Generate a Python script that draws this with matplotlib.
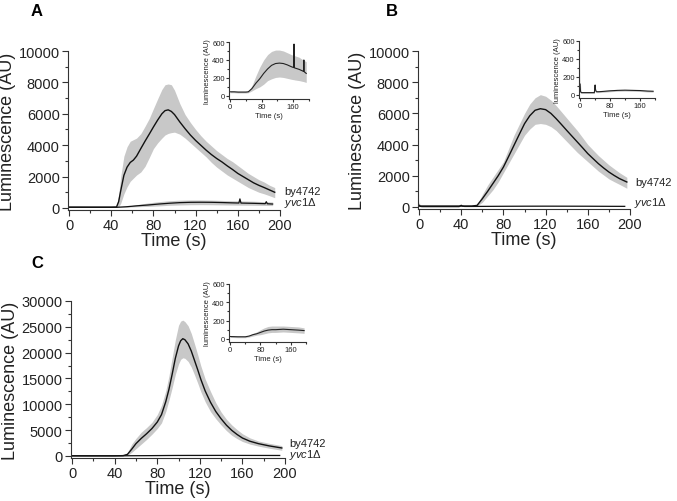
import numpy as np
import matplotlib
matplotlib.use("Agg")
import matplotlib.pyplot as plt
from matplotlib.ticker import MultipleLocator

plt.rcParams['font.family'] = ['Liberation Sans', 'DejaVu Sans']
plt.rcParams['mathtext.fontset'] = 'custom'
plt.rcParams['mathtext.rm'] = 'Liberation Sans'
plt.rcParams['mathtext.it'] = 'Liberation Sans:italic'

# ---- panel A ----
tA = [0, 40, 45, 47, 49, 52, 55, 58, 61, 64, 68, 72, 76, 80, 84, 88, 91, 94, 97, 100, 105, 110, 115, 120, 125, 130, 135, 140, 145, 150, 155, 160, 165, 170, 175, 180, 185, 190, 195]
wtA = [50, 50, 60, 400, 1100, 2080, 2600, 2900, 3050, 3300, 3780, 4250, 4700, 5160, 5600, 6000, 6200, 6250, 6150, 5950, 5480, 5050, 4650, 4300, 3990, 3680, 3400, 3150, 2930, 2680, 2450, 2200, 2000, 1800, 1600, 1440, 1300, 1150, 1000]
wtA_hi = [60, 60, 80, 800, 2000, 3300, 3900, 4250, 4350, 4450, 4730, 5200, 5700, 6330, 6950, 7550, 7850, 7900, 7850, 7500, 6650, 5950, 5450, 5000, 4600, 4250, 3950, 3650, 3400, 3150, 2950, 2700, 2450, 2200, 2000, 1800, 1650, 1450, 1300]
wtA_lo = [40, 40, 40, 60, 300, 900, 1350, 1700, 1900, 2100, 2290, 2650, 3200, 3780, 4150, 4450, 4650, 4750, 4800, 4830, 4700, 4450, 4150, 3850, 3550, 3250, 2900, 2600, 2350, 2100, 1900, 1700, 1500, 1300, 1150, 1000, 900, 780, 650]

tA_y = [0, 10, 20, 30, 40, 46, 55, 65, 75, 85, 95, 105, 115, 125, 135, 145, 155, 161, 162, 163, 175, 185, 186, 187, 188, 193]
yA = [45, 45, 42, 42, 42, 45, 80, 140, 190, 250, 300, 340, 360, 365, 360, 345, 325, 315, 577, 312, 295, 275, 272, 400, 268, 250]
yA_hi = [55, 55, 52, 52, 52, 55, 110, 220, 320, 400, 460, 495, 510, 510, 500, 480, 460, 450, 450, 448, 430, 400, 398, 396, 394, 380]
yA_lo = [35, 35, 32, 32, 32, 35, 55, 80, 100, 130, 170, 190, 205, 210, 205, 195, 185, 180, 180, 178, 170, 160, 160, 158, 156, 150]

# ---- panel B ----
tB = [0, 50, 55, 60, 65, 70, 75, 80, 85, 90, 95, 100, 105, 110, 115, 120, 125, 130, 135, 140, 145, 150, 155, 160, 165, 170, 175, 180, 185, 190, 197]
wtB = [60, 60, 100, 530, 1000, 1500, 2000, 2560, 3250, 3950, 4650, 5340, 5850, 6200, 6300, 6240, 6000, 5660, 5290, 4910, 4540, 4170, 3800, 3420, 3100, 2780, 2500, 2240, 2020, 1820, 1600]
wtB_hi = [70, 70, 150, 800, 1400, 1900, 2400, 2900, 3750, 4600, 5300, 6000, 6600, 7000, 7200, 7100, 6850, 6500, 6100, 5700, 5300, 4900, 4450, 4000, 3650, 3300, 3000, 2700, 2450, 2200, 1900]
wtB_lo = [50, 50, 60, 300, 700, 1100, 1600, 2200, 2800, 3400, 4000, 4600, 5000, 5300, 5350, 5300, 5150, 4900, 4550, 4200, 3850, 3500, 3200, 2900, 2600, 2300, 2050, 1800, 1620, 1450, 1200]

tB_y = [0, 1, 2, 3, 5, 10, 20, 30, 38, 40, 41, 43, 50, 60, 80, 100, 120, 140, 160, 180, 195]
yB = [120, 40, 30, 25, 25, 25, 25, 25, 25, 110, 60, 35, 35, 38, 45, 50, 52, 50, 48, 42, 40]
yB_hi = [350, 120, 50, 35, 35, 35, 35, 35, 35, 130, 75, 45, 45, 48, 55, 60, 62, 60, 58, 52, 50]
yB_lo = [80, 20, 20, 15, 15, 15, 15, 15, 15, 90, 45, 25, 25, 28, 35, 40, 42, 40, 38, 32, 30]

# ---- panel C ----
tC = [0, 40, 48, 52, 56, 60, 65, 70, 75, 80, 84, 88, 91, 94, 97, 100, 102, 104, 106, 109, 112, 115, 118, 121, 125, 130, 135, 140, 145, 150, 155, 160, 167, 175, 185, 197]
wtC = [20, 20, 60, 300, 1300, 2380, 3400, 4300, 5300, 6550, 8000, 10500, 12900, 15800, 18900, 21300, 22300, 22700, 22500, 21700, 20300, 18500, 16700, 14800, 12600, 10400, 8600, 7190, 5950, 4950, 4150, 3470, 2850, 2380, 1950, 1540]
wtC_hi = [30, 30, 120, 600, 2300, 3400, 4600, 5500, 6500, 8000, 9800, 12600, 15500, 19000, 22500, 25300, 26100, 26300, 26000, 25200, 23700, 21700, 19600, 17400, 14900, 12500, 10300, 8500, 7100, 6000, 5100, 4300, 3500, 2900, 2450, 2000]
wtC_lo = [10, 10, 20, 100, 700, 1400, 2300, 3200, 4200, 5300, 6400, 8600, 10800, 13200, 15800, 17800, 18700, 19000, 18900, 18300, 17200, 15700, 14100, 12400, 10500, 8600, 7200, 6000, 4900, 4000, 3350, 2800, 2300, 1900, 1500, 1100]

tC_y = [0, 20, 40, 50, 60, 70, 80, 90, 100, 110, 120, 140, 160, 180, 195]
yC = [25, 22, 22, 30, 45, 55, 70, 85, 95, 100, 100, 105, 100, 95, 90]
yC_hi = [35, 32, 30, 40, 60, 75, 100, 120, 135, 140, 140, 140, 135, 130, 120]
yC_lo = [15, 12, 12, 20, 30, 40, 45, 55, 65, 70, 70, 75, 70, 65, 60]

BAND = '#c8c8c8'
TXT = '#222222'
W, H = 677, 502


def rect(l, t, r, b):
    return [l / W, 1 - b / H, (r - l) / W, (b - t) / H]


def style(ax, fs):
    for s in ['top', 'right']:
        ax.spines[s].set_visible(False)
    for s in ['left', 'bottom']:
        ax.spines[s].set_linewidth(0.8)
        ax.spines[s].set_color('#333333')
    ax.tick_params(which='both', direction='out', colors='#333333', labelcolor=TXT, labelsize=fs, width=0.8)
    ax.tick_params(which='major', length=4 if fs > 8 else 2, pad=2 if fs > 8 else 1)
    ax.tick_params(which='minor', length=2 if fs > 8 else 1.2)


def main_panel(ax, t, m, hi, lo, ty, my, hiy, loy, ymax, ystep, lab_pos):
    ax.fill_between(t, lo, hi, color=BAND, lw=0)
    ax.fill_between(ty, loy, hiy, color=BAND, lw=0)
    ax.plot(ty, my, color='#111111', lw=0.9)
    ax.plot(t, m, color='#111111', lw=1.0)
    ax.set_xlim(-1, 200)
    ax.set_ylim(-ymax * 0.013, ymax)
    ax.xaxis.set_major_locator(MultipleLocator(40))
    ax.xaxis.set_minor_locator(MultipleLocator(20))
    ax.yaxis.set_major_locator(MultipleLocator(ystep))
    ax.yaxis.set_minor_locator(MultipleLocator(ystep / 2))
    style(ax, 10.5)
    ax.set_xlabel('Time (s)', fontsize=13, color=TXT, labelpad=0)
    ax.set_ylabel('Luminescence (AU)', fontsize=13, color=TXT, labelpad=2)
    (xb, yb), (xy, yy) = lab_pos
    ax.text(xb, yb, 'by4742', fontsize=8, color=TXT, va='center', clip_on=False)
    ax.text(xy, yy, r'$\mathit{yvc1}\Delta$', fontsize=8, color=TXT, va='center', clip_on=False)


def inset(ax, ty, my, hiy, loy):
    ax.fill_between(ty, loy, hiy, color=BAND, lw=0)
    ax.plot(ty, my, color='#222222', lw=0.8)
    ax.set_xlim(-3, 200)
    ax.set_ylim(-35, 600)
    ax.xaxis.set_major_locator(MultipleLocator(80))
    ax.xaxis.set_minor_locator(MultipleLocator(40))
    ax.yaxis.set_major_locator(MultipleLocator(200))
    ax.yaxis.set_minor_locator(MultipleLocator(100))
    style(ax, 5.5)
    ax.set_xlabel('Time (s)', fontsize=5.5, color=TXT, labelpad=1)
    ax.set_ylabel('luminescence (AU)', fontsize=5.5, color=TXT, labelpad=1)


fig = plt.figure(figsize=(6.77, 5.02), dpi=100)

axA = fig.add_axes(rect(68, 52, 280, 211))
main_panel(axA, tA, wtA, wtA_hi, wtA_lo, tA_y, yA, yA_hi, yA_lo, 10000, 2000,
           ((204, 1080), (204, 380)))
axB = fig.add_axes(rect(418, 52, 630, 210))
main_panel(axB, tB, wtB, wtB_hi, wtB_lo, tB_y, yB, yB_hi, yB_lo, 10000, 2000,
           ((205, 1600), (204, 320)))
axC = fig.add_axes(rect(71, 302, 285, 459))
main_panel(axC, tC, wtC, wtC_hi, wtC_lo, tC_y, yC, yC_hi, yC_lo, 30000, 5000,
           ((204, 2500), (204, 390)))
axC.set_ylim(-400, 30000)

iA = fig.add_axes(rect(229, 43, 309, 100))
inset(iA, tA_y, yA, yA_hi, yA_lo)
iB = fig.add_axes(rect(579, 42, 655, 99))
inset(iB, tB_y, yB, yB_hi, yB_lo)
iC = fig.add_axes(rect(229, 285, 306, 343))
inset(iC, tC_y, yC, yC_hi, yC_lo)

fig.text(37 / W, 1 - 12 / H, 'A', fontsize=12, fontweight='bold', ha='center', va='center')
fig.text(392 / W, 1 - 12 / H, 'B', fontsize=12, fontweight='bold', ha='center', va='center')
fig.text(37 / W, 1 - 263 / H, 'C', fontsize=12, fontweight='bold', ha='center', va='center')

fig.savefig('out.png', dpi=100)
